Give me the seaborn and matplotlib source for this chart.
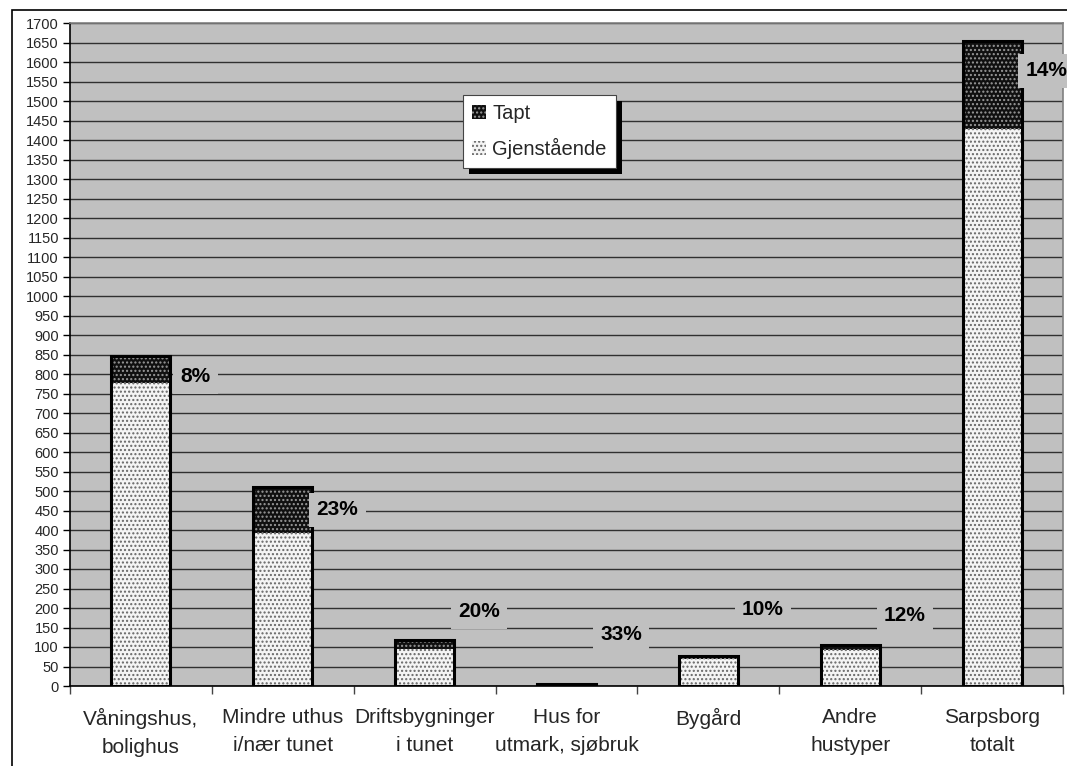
import matplotlib
matplotlib.use("Agg")
import matplotlib.pyplot as plt
import seaborn as sns
import pandas as pd
import numpy as np
from matplotlib.patches import Rectangle, Patch

categories = ["Våningshus,\nbolighus", "Mindre uthus\ni/nær tunet", "Driftsbygninger\ni tunet",
              "Hus for\nutmark, sjøbruk", "Bygård", "Andre\nhustyper", "Sarpsborg\ntotalt"]
gjenstaende = [776, 393, 95, 4, 70, 92, 1427]
tapt = [69, 117, 24, 2, 8, 13, 227]
pct_labels = ["8%", "23%", "20%", "33%", "10%", "12%", "14%"]
label_y = [793, 452, 190, 131, 195, 180, 1577]

sns.set_theme(style="white")
plt.rcParams['font.family'] = ['Liberation Sans', 'DejaVu Sans']

df = pd.DataFrame({"cat": categories,
                   "gjen": gjenstaende,
                   "total": np.array(gjenstaende) + np.array(tapt)})

fig = plt.figure(figsize=(10.67, 7.66), dpi=100)
ax = fig.add_axes([70/1067, 1-686/766, (1063-70)/1067, (686-23)/766])
ax.set_facecolor("#c0c0c0")

W = 0.415
sns.barplot(data=df, x="cat", y="total", color="#101010", width=W, ax=ax,
            saturation=1, errorbar=None, zorder=3)
sns.barplot(data=df, x="cat", y="gjen", color="#f4f4f4", width=W, ax=ax,
            saturation=1, errorbar=None, zorder=3)
n = len(categories)
for i, p in enumerate(ax.patches):
    p.set_linewidth(0)
    if i < n:
        p.set_edgecolor("#9a9a9a")
    else:
        p.set_edgecolor("#666666")
    p.set_hatch("....")
sns.barplot(data=df, x="cat", y="total", fill=False, color="black", width=W, ax=ax,
            errorbar=None, linewidth=2.2, zorder=4)
for p in ax.patches[2*n:]:
    p.set_edgecolor("black")
    p.set_hatch(None)

ax.set_xlim(-0.5, n - 0.5)
ax.set_ylim(0, 1700)
ax.set_yticks(np.arange(0, 1701, 50))
ax.tick_params(axis='y', which='major', length=5, width=1, color='black',
               direction='out', labelsize=10.5, pad=3, left=True)
ax.yaxis.grid(True, color='#303030', linewidth=1.0, zorder=0)
ax.set_axisbelow(True)
ax.set_xticks(range(n))
ax.set_xticklabels(categories, fontsize=15, linespacing=1.6)
ax.tick_params(axis='x', which='major', length=0, pad=16)
ax.set_xticks(np.arange(-0.5, n, 1), minor=True)
ax.tick_params(axis='x', which='minor', length=6, width=1, color='#444444',
               direction='out', bottom=True)
ax.set_xlabel("")
ax.set_ylabel("")
for s in ["left", "bottom"]:
    ax.spines[s].set_visible(True)
    ax.spines[s].set_color("black")
    ax.spines[s].set_linewidth(1.2)
for s in ["top", "right"]:
    ax.spines[s].set_color("#808080")
    ax.spines[s].set_linewidth(1.2)

for i, (lab, yv) in enumerate(zip(pct_labels, label_y)):
    ax.text(i + 0.385, yv, lab, ha='center', va='center', fontsize=15,
            fontweight='bold', color='black', zorder=5,
            bbox=dict(boxstyle='square,pad=0.35', facecolor='#c0c0c0', edgecolor='none'))

# legend with hard black drop shadow
handles = [Patch(facecolor="#101010", edgecolor="#9a9a9a", hatch="....", linewidth=0),
           Patch(facecolor="#f4f4f4", edgecolor="#666666", hatch="....", linewidth=0)]
leg_kw = dict(fontsize=14.5, frameon=True, fancybox=False, edgecolor='#444444',
              framealpha=1, handlelength=0.7, handleheight=0.7, handletextpad=0.3,
              labelspacing=0.75, borderpad=0.45, borderaxespad=0)
leg = ax.legend(handles, ["Tapt", "Gjenstående"], loc='upper left',
                bbox_to_anchor=((463-70)/993, 1-(95-23)/663), **leg_kw)
fig.canvas.draw()
bb = leg.get_window_extent().transformed(fig.transFigure.inverted())
leg.remove()
off_x, off_y = 6/1067, 6/766
ax_shadow = fig.add_axes([bb.x0 + off_x, bb.y0 - off_y, bb.width, bb.height], zorder=2.5)
ax_shadow.set_facecolor('black')
ax_shadow.set_xticks([]); ax_shadow.set_yticks([])
for s in ax_shadow.spines.values():
    s.set_visible(False)
ax_leg = fig.add_axes([0, 0, 1, 1], zorder=3)
ax_leg.axis('off')
leg2 = ax_leg.legend(handles, ["Tapt", "Gjenstående"], loc='upper left',
                     bbox_to_anchor=(bb.x0, bb.y1), bbox_transform=fig.transFigure, **leg_kw)
leg2.get_frame().set_linewidth(0.8)

# outer frame
fig.patches.append(Rectangle((12/1067, -0.01), 1.2, 1 - 10/766 + 0.01,
                             transform=fig.transFigure, fill=False,
                             edgecolor='black', linewidth=1.2))

fig.savefig("out.png", dpi=100)
